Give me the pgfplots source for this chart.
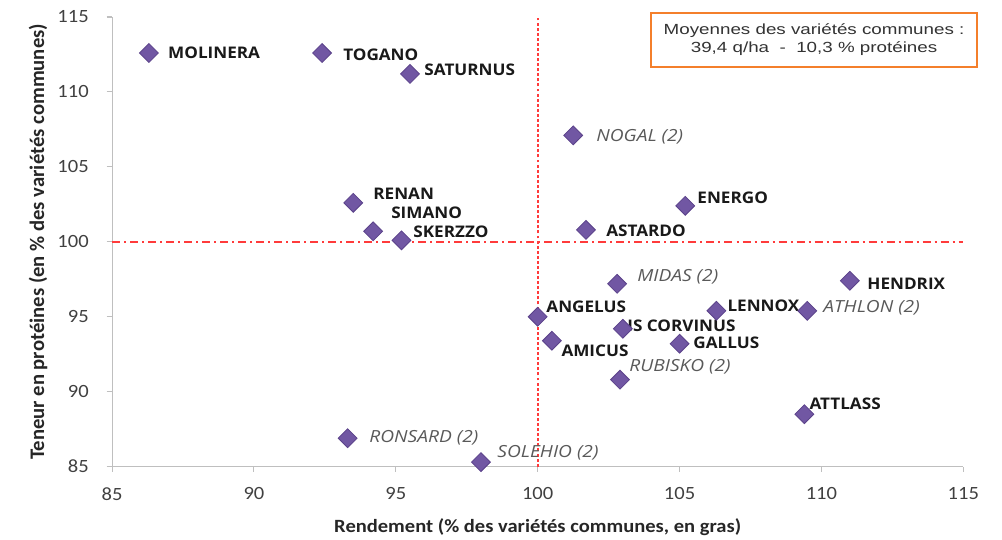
\documentclass[border=0pt]{standalone}
\usepackage{pgfplots}
\pgfplotsset{compat=1.18}
\usepackage{fontspec}
\setmainfont{Carlito}
\newfontfamily\tickfont[FakeStretch=1.1]{Carlito}
\newfontfamily\xlabfont[FakeStretch=1.1]{Carlito}
\newfontfamily\osansb[FakeStretch=1.07]{Open Sans}
\newfontfamily\osansi[FakeStretch=1.15]{Open Sans}
\newfontfamily\arial[FakeStretch=1.28]{Liberation Sans}
\definecolor{pt}{HTML}{7157A3}
\definecolor{ptedge}{HTML}{5B428A}
\definecolor{refred}{HTML}{FF3B3B}
\definecolor{boxor}{HTML}{F47F2B}
\definecolor{axgray}{HTML}{BFBFBF}
\definecolor{lblgray}{HTML}{595959}
\definecolor{tickgray}{HTML}{404040}
\begin{document}
\begin{tikzpicture}
\begin{axis}[
  at={(0,0)}, anchor=south west,
  scale only axis, width=638pt, height=337pt,
  xmin=85, xmax=115, ymin=85, ymax=115,
  xtick={85,90,...,115}, ytick={85,90,...,115},
  axis x line*=bottom, axis y line*=left,
  axis line style={axgray, line width=0.8pt},
  x axis line style={-}, y axis line style={-},
  tick style={axgray, line width=0.8pt},
  tick align=outside, major tick length=4pt,
  /pgf/number format/assume math mode=true,
  xticklabel style={font=\tickfont\fontsize{14}{16}\selectfont, text=tickgray, yshift=-8pt},
  yticklabel style={font=\tickfont\fontsize{14}{16}\selectfont, text=tickgray, xshift=-10pt},
  clip=false,
]
\addplot[color=refred, mark=none, line width=1.5pt, dash pattern=on 2.2pt off 1.6pt] coordinates {(100,85) (100,115)};
\addplot[color=refred, mark=none, line width=1.5pt, dash pattern=on 6pt off 3pt on 1.5pt off 3pt] coordinates {(85,100) (115,100)};
\addplot[only marks, mark=square*, mark size=5pt, mark options={rotate=45, fill=pt, draw=ptedge, line width=0.6pt}] coordinates {
(86.3,112.6) (92.4,112.6) (95.5,111.2) (101.25,107.1)
(93.5,102.6) (94.2,100.7) (95.2,100.1) (105.2,102.4) (101.7,100.8)
(102.8,97.2) (111.0,97.4) (100.0,95.0) (106.3,95.4) (109.5,95.4)
(103.0,94.2) (100.5,93.4) (105.0,93.2) (102.9,90.8) (109.4,88.5)
(93.3,86.9) (98.0,85.3)
};
\tikzset{bl/.style={anchor=west, inner sep=0pt, font=\osansb\bfseries\fontsize{12}{14}\selectfont, text=black!90},
         il/.style={anchor=west, inner sep=0pt, font=\osansi\itshape\fontsize{12.5}{14}\selectfont, text=lblgray}}
\node[bl] at (axis cs:86.97,112.6) {MOLINERA};
\node[bl] at (axis cs:93.14,112.46) {TOGANO};
\node[bl] at (axis cs:96.0,111.46) {SATURNUS};
\node[il] at (axis cs:102.06,106.98) {NOGAL (2)};
\node[bl] at (axis cs:94.2,103.24) {RENAN};
\node[bl] at (axis cs:94.83,101.91) {SIMANO};
\node[bl] at (axis cs:95.61,100.64) {SKERZZO};
\node[bl] at (axis cs:105.62,102.91) {ENERGO};
\node[bl] at (axis cs:102.41,100.77) {ASTARDO};
\node[il] at (axis cs:103.5,97.7) {MIDAS (2)};
\node[bl] at (axis cs:111.61,97.23) {HENDRIX};
\node[bl] at (axis cs:100.3,95.69) {ANGELUS};
\node[bl] at (axis cs:106.68,95.76) {LENNOX};
\node[il] at (axis cs:110.06,95.63) {ATHLON (2)};
\node[bl] at (axis cs:103.15,94.43) {IS CORVINUS};
\node[bl] at (axis cs:100.83,92.76) {AMICUS};
\node[bl] at (axis cs:105.48,93.29) {GALLUS};
\node[il] at (axis cs:103.22,91.69) {RUBISKO (2)};
\node[bl] at (axis cs:109.57,89.22) {ATTLASS};
\node[il] at (axis cs:94.06,86.94) {RONSARD (2)};
\node[il] at (axis cs:98.57,85.94) {SOLEHIO (2)};
\node[draw=boxor, line width=1.4pt, fill=white, minimum width=244pt, minimum height=40pt, align=center,
  font=\arial\fontsize{11}{13.5}\selectfont, text=black!80] at (axis cs:109.74,113.46)
  {Moyennes des variétés communes :\\39,4 q/ha\ \ -\ \ 10,3 \% protéines};
\end{axis}
\node[font=\xlabfont\bfseries\fontsize{14}{16}\selectfont, text=black!85] at (319pt,-45pt)
  {Rendement (\% des variétés communes, en gras)};
\node[rotate=90, font=\bfseries\fontsize{15.5}{17}\selectfont, text=black!85] at (-55.5pt,168.5pt)
  {Teneur en protéines (en \% des variétés communes)};
\path[use as bounding box] (-84pt,-54pt) rectangle (667pt,349.75pt);
\end{tikzpicture}
\end{document}
